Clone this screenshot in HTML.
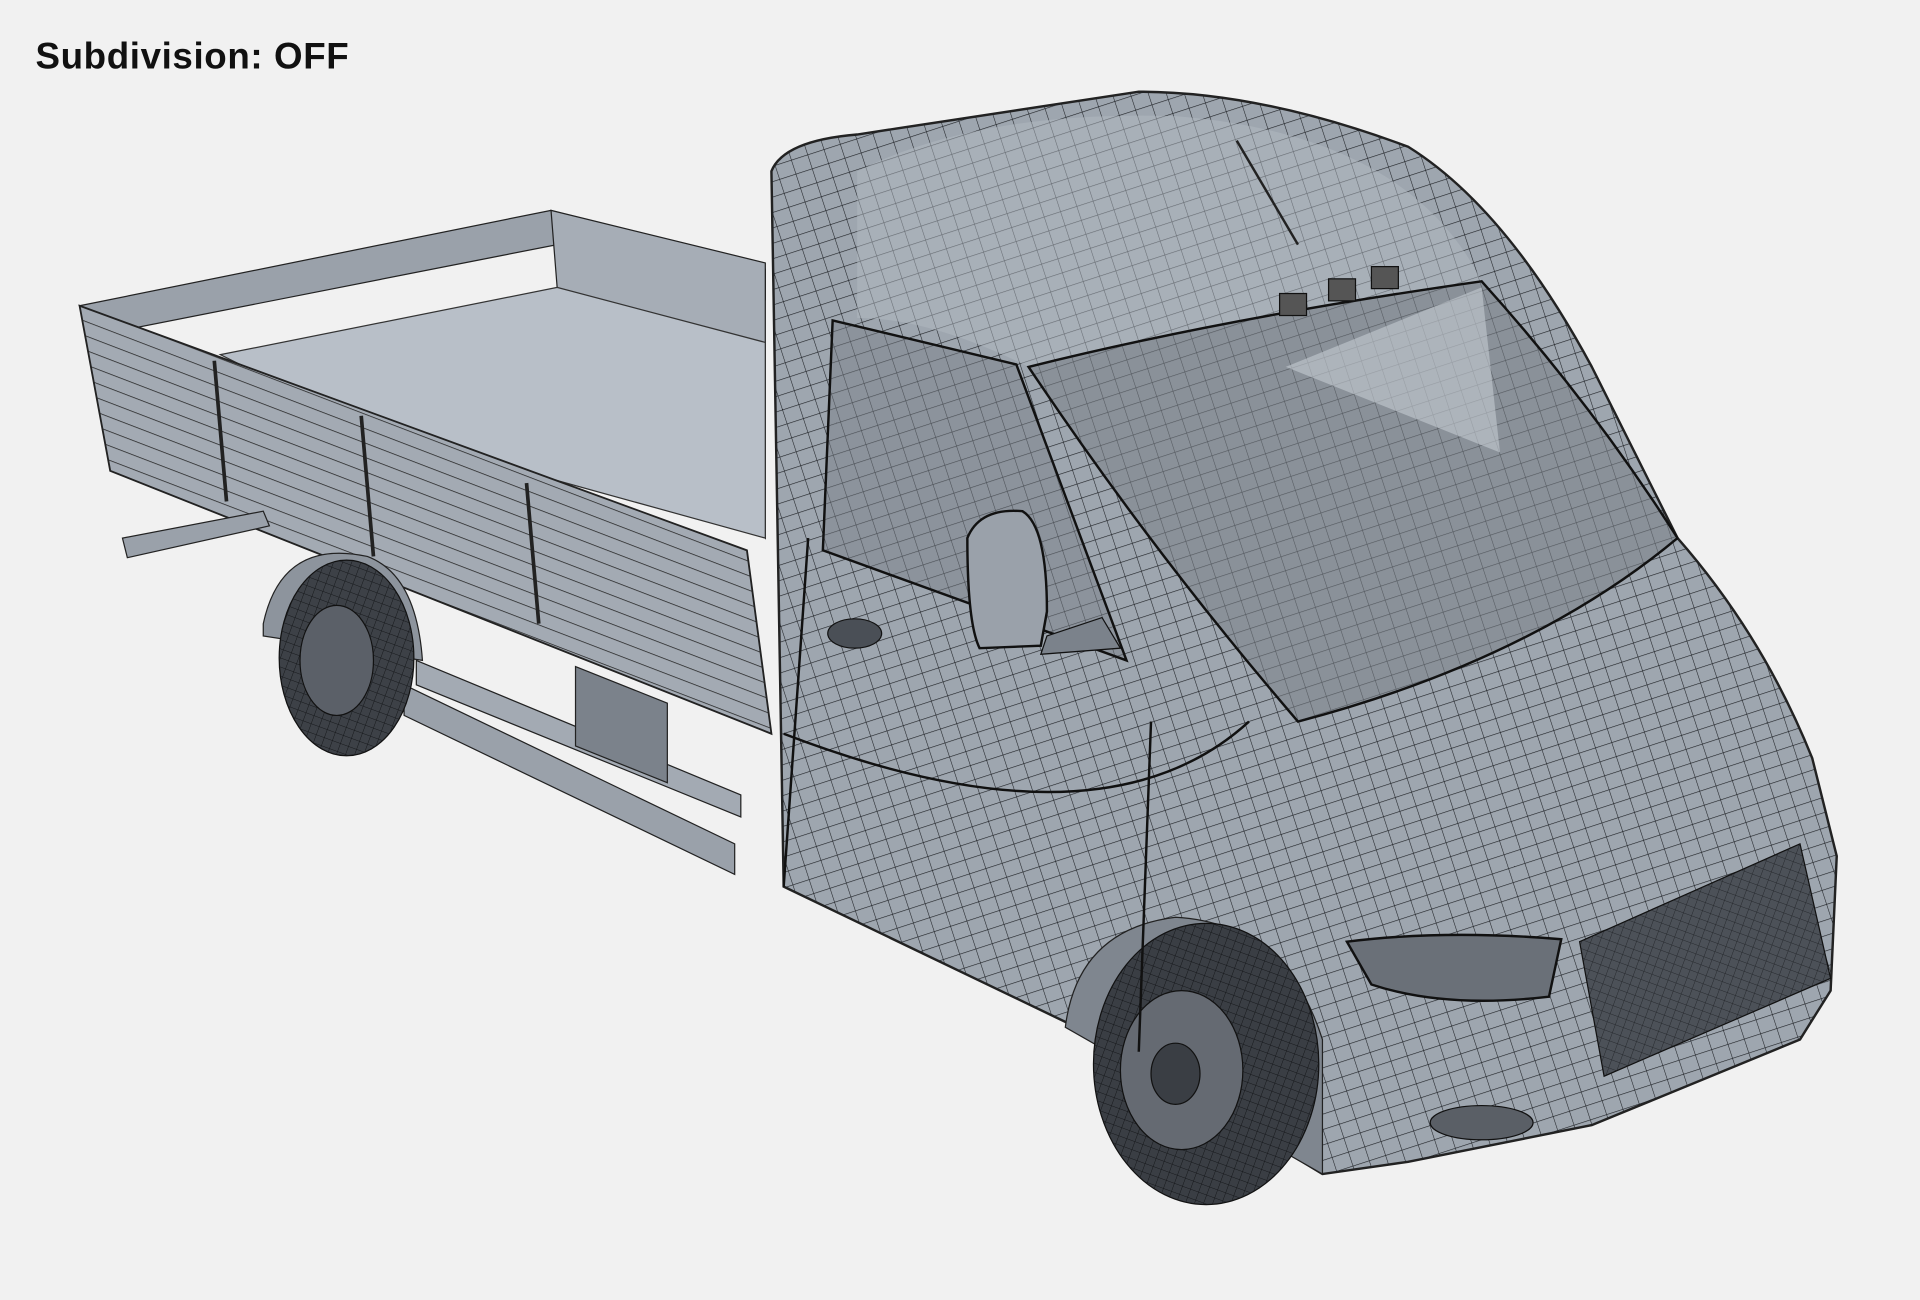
<!DOCTYPE html>
<html><head><style>
html,body{margin:0;padding:0;background:#f1f1f1;}
svg{display:block}
</style></head><body>
<svg width="1920" height="1300" viewBox="0 0 1568 1063" preserveAspectRatio="none" xmlns="http://www.w3.org/2000/svg">
<defs>
<pattern id="g" width="14" height="12" patternUnits="userSpaceOnUse" patternTransform="rotate(-18)">
<path d="M0 0H14M0 0V12" stroke="#1d2024" stroke-width="0.9" fill="none"/>
</pattern>
<pattern id="gf" width="7" height="7" patternUnits="userSpaceOnUse" patternTransform="rotate(20)">
<path d="M0 0H7M0 0V7" stroke="#15171a" stroke-width="0.8" fill="none"/>
</pattern>
<pattern id="slat" width="20" height="11" patternUnits="userSpaceOnUse" patternTransform="rotate(21)">
<path d="M0 0H20" stroke="#222" stroke-width="1.2"/>
</pattern>
</defs>
<rect width="1568" height="1063" fill="#f1f1f1"/>
<text x="29" y="56" font-family="Liberation Sans, sans-serif" font-weight="bold" font-size="30" letter-spacing="0.5" fill="#111">Subdivision: OFF</text>

<polygon points="65,250 450,172 625,220 625,245 455,200 90,272" fill="#9aa1aa" stroke="#222"/>
<polygon points="450,172 625,215 625,440 455,235" fill="#a6adb6" stroke="#222"/>
<polygon points="180,290 455,235 625,280 625,440 300,350" fill="#b8bfc8" stroke="#333"/>
<polygon points="65,250 610,450 630,600 90,385" fill="#a3aab3" stroke="#222" stroke-width="1.5"/>
<polygon points="65,250 610,450 630,600 90,385" fill="url(#slat)"/>
<path d="M175,295 L185,410 M295,340 L305,455 M430,395 L440,510" stroke="#222" stroke-width="3"/>
<polygon points="100,440 215,418 220,430 104,456" fill="#9aa1aa" stroke="#222"/>
<polygon points="330,560 600,690 600,715 330,585" fill="#9aa1aa" stroke="#222"/>
<polygon points="340,540 605,650 605,668 340,560" fill="#a3aab3" stroke="#222"/>
<polygon points="470,545 545,575 545,640 470,610" fill="#7b828b" stroke="#222"/>
<path d="M215,510 Q230,440 300,455 Q340,470 345,540 L215,520 Z" fill="#8d949d" stroke="#222"/>
<ellipse cx="283" cy="538" rx="55" ry="80" fill="#3d4147" stroke="#111"/>
<ellipse cx="283" cy="538" rx="55" ry="80" fill="url(#gf)"/>
<ellipse cx="275" cy="540" rx="30" ry="45" fill="#5b6068" stroke="#111"/>

<path d="M630,140 Q640,115 700,110 L930,75 Q1030,75 1150,120 Q1230,170 1300,300 L1370,440 Q1440,520 1480,620 L1500,700 L1495,810 L1470,850 L1300,920 L1150,950 L1080,960 L900,850 L640,725 Z" fill="#9ea6af" stroke="#222" stroke-width="2"/>
<path d="M630,140 Q640,115 700,110 L930,75 Q1030,75 1150,120 Q1230,170 1300,300 L1370,440 Q1440,520 1480,620 L1500,700 L1495,810 L1470,850 L1300,920 L1150,950 L1080,960 L900,850 L640,725 Z" fill="url(#g)"/>
<path d="M700,140 Q800,90 960,95 Q1150,110 1210,230 L840,300 Q760,260 700,260 Z" fill="#b2b9c2" opacity="0.5"/>
<polygon points="680,262 830,298 920,540 672,450" fill="#8c939c" stroke="#111" stroke-width="2"/>
<polygon points="680,262 830,298 920,540 672,450" fill="url(#g)" opacity="0.6"/>
<path d="M840,300 Q1000,260 1210,230 Q1300,330 1370,440 Q1250,540 1060,590 Q940,450 840,300 Z" fill="#8a9199" stroke="#111" stroke-width="2"/>
<path d="M840,300 Q1000,260 1210,230 Q1300,330 1370,440 Q1250,540 1060,590 Q940,450 840,300 Z" fill="url(#g)" opacity="0.5"/>
<polygon points="1050,300 1210,235 1225,370" fill="#c5cbd2" opacity="0.6"/>
<rect x="1045" y="240" width="22" height="18" fill="#555" stroke="#111"/>
<rect x="1085" y="228" width="22" height="18" fill="#555" stroke="#111"/>
<rect x="1120" y="218" width="22" height="18" fill="#555" stroke="#111"/>
<line x1="1010" y1="115" x2="1060" y2="200" stroke="#222" stroke-width="2"/>
<path d="M790,440 Q800,415 835,418 Q855,430 855,500 L850,528 L800,530 Q790,510 790,440 Z" fill="#9aa1aa" stroke="#111" stroke-width="2"/>
<path d="M855,520 L900,505 L915,530 L850,535 Z" fill="#7b828b" stroke="#111"/>
<ellipse cx="698" cy="518" rx="22" ry="12" fill="#4a4f56" stroke="#111"/>
<path d="M1100,770 Q1180,760 1275,768 L1265,815 Q1180,825 1120,805 Z" fill="#6a7078" stroke="#111" stroke-width="2"/>
<path d="M1290,770 L1470,690 L1495,800 L1310,880 Z" fill="#4c5158" stroke="#111"/>
<path d="M1290,770 L1470,690 L1495,800 L1310,880 Z" fill="url(#gf)" opacity="0.7"/>
<ellipse cx="1210" cy="918" rx="42" ry="14" fill="#5a5f66" stroke="#111"/>
<path d="M870,840 Q880,760 960,750 Q1050,755 1080,850 L1080,960 Z" fill="#7f868f" stroke="#222"/>
<ellipse cx="985" cy="870" rx="92" ry="115" fill="#3a3e44" stroke="#111"/>
<ellipse cx="985" cy="870" rx="92" ry="115" fill="url(#gf)"/>
<ellipse cx="965" cy="875" rx="50" ry="65" fill="#656a72" stroke="#111"/>
<ellipse cx="960" cy="878" rx="20" ry="25" fill="#3a3e44" stroke="#111"/>
<path d="M660,440 L640,725 M940,590 L930,860 M640,600 Q900,700 1020,590" stroke="#111" stroke-width="2" fill="none"/>
</svg>
</body></html>
